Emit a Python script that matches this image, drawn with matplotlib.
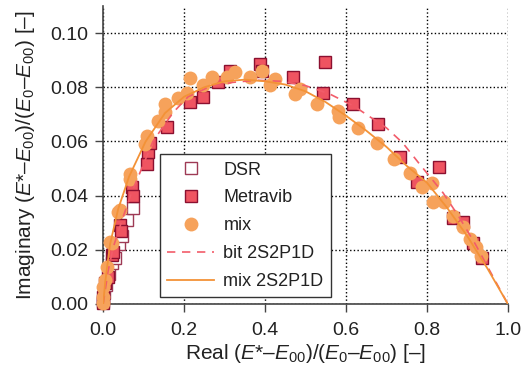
import matplotlib
matplotlib.use('Agg')
import matplotlib.pyplot as plt

plt.rcParams['font.family'] = ['Liberation Sans', 'DejaVu Sans']
plt.rcParams['mathtext.fontset'] = 'custom'
plt.rcParams['mathtext.rm'] = 'Liberation Sans'
plt.rcParams['mathtext.it'] = 'Liberation Sans:italic'
plt.rcParams['mathtext.bf'] = 'Liberation Sans:bold'

# DSR (hollow squares)
dsr_re = [0.0, 0.003, 0.008, 0.015, 0.022, 0.030, 0.040, 0.047, 0.060, 0.074]
dsr_im = [0.001, 0.004, 0.007, 0.011, 0.015, 0.017, 0.022, 0.025, 0.031, 0.0355]

# Metravib (filled squares)
met_re = [0.0, 0.0, 0.005, 0.012, 0.022, 0.025, 0.042, 0.045, 0.072, 0.074,
          0.109, 0.111, 0.116, 0.158, 0.215, 0.247, 0.284, 0.314, 0.388, 0.393,
          0.469, 0.543, 0.548, 0.617, 0.679, 0.733, 0.775, 0.830, 0.864, 0.889,
          0.914, 0.936]
met_im = [0.0003, 0.0026, 0.0078, 0.010, 0.018, 0.0193, 0.0293, 0.027, 0.043, 0.040,
          0.0515, 0.056, 0.0596, 0.0652, 0.0744, 0.0763, 0.0818, 0.086, 0.0885, 0.086,
          0.0837, 0.0777, 0.0893, 0.0737, 0.0663, 0.0544, 0.0452, 0.0507, 0.0318, 0.0304,
          0.0226, 0.017]

# mix (circles)
mix_re = [0.0, 0.0, 0.0, 0.005, 0.010, 0.017, 0.022, 0.037, 0.042, 0.067,
          0.067, 0.104, 0.109, 0.136, 0.153, 0.153, 0.185, 0.207, 0.215, 0.247,
          0.270, 0.306, 0.326, 0.363, 0.393, 0.412, 0.425, 0.474, 0.486, 0.528,
          0.580, 0.583, 0.630, 0.677, 0.719, 0.758, 0.788, 0.812, 0.815, 0.842,
          0.864, 0.889, 0.906, 0.921, 0.933]
mix_im = [0.0004, 0.0026, 0.0063, 0.0089, 0.0137, 0.023, 0.0226, 0.034, 0.0348, 0.046,
          0.0478, 0.0589, 0.0619, 0.0674, 0.0707, 0.0737, 0.076, 0.078, 0.0833, 0.081,
          0.0837, 0.0837, 0.0855, 0.0837, 0.086, 0.081, 0.083, 0.0774, 0.0793, 0.0737,
          0.0711, 0.0689, 0.065, 0.0593, 0.0537, 0.0485, 0.0433, 0.0448, 0.0378, 0.0378,
          0.0326, 0.0285, 0.024, 0.0211, 0.0178]

# bit 2S2P1D model (dashed)
bit_re = [0.0, 0.012, 0.025, 0.049, 0.07, 0.091, 0.123, 0.173, 0.21, 0.26, 0.32, 0.38,
          0.44, 0.50, 0.56, 0.62, 0.66, 0.70, 0.74, 0.78, 0.84, 0.88, 0.92, 0.96, 1.0]
bit_im = [0.0, 0.012, 0.021, 0.032, 0.041, 0.0485, 0.060, 0.0707, 0.0765, 0.0800, 0.0818, 0.0826,
          0.0822, 0.0806, 0.0775, 0.0730, 0.069, 0.065, 0.0595, 0.052, 0.041, 0.032, 0.022, 0.011, 0.0]

# mix 2S2P1D model (solid)
mfit_re = [0.0, 0.005, 0.017, 0.037, 0.064, 0.105, 0.153, 0.20, 0.25, 0.30, 0.35, 0.40,
           0.45, 0.50, 0.55, 0.60, 0.65, 0.70, 0.75, 0.80, 0.85, 0.90, 0.95, 1.0]
mfit_im = [0.0, 0.008, 0.022, 0.035, 0.047, 0.060, 0.0705, 0.0765, 0.080, 0.0822, 0.0828, 0.0822,
           0.081, 0.0785, 0.0745, 0.0695, 0.064, 0.058, 0.051, 0.0448, 0.0355, 0.025, 0.013, 0.0]

fig = plt.figure(figsize=(5.29, 3.73), dpi=100)
ax = fig.add_axes([0.195, 0.185, 0.765, 0.799])

ax.plot(dsr_re, dsr_im, 's', ms=8.7, mfc='white', mec='#9E3A55', mew=1.0,
        label='DSR', clip_on=False, zorder=3)
ax.plot(met_re, met_im, 's', ms=8.7, mfc='#EF5461', mec='#8B1030', mew=1.0,
        label='Metravib', clip_on=False, zorder=3)
ax.plot(mix_re, mix_im, 'o', ms=10, mfc='#F6A25B', mec='#F6A25B', mew=0,
        label='mix', clip_on=False, zorder=3)
ax.plot(bit_re, bit_im, '--', color='#F25C6A', lw=1.2, dashes=(5, 4),
        label='bit 2S2P1D', zorder=4)
ax.plot(mfit_re, mfit_im, '-', color='#F39237', lw=1.3,
        label='mix 2S2P1D', zorder=4)

ax.set_xlim(0, 1.0)
ax.set_ylim(0, 0.11)
ax.set_xticks([0.0, 0.2, 0.4, 0.6, 0.8, 1.0])
ax.set_yticks([0.0, 0.02, 0.04, 0.06, 0.08, 0.10])
ax.set_xticklabels(['0.0', '0.2', '0.4', '0.6', '0.8', '1.0'])
ax.set_yticklabels(['0.00', '0.02', '0.04', '0.06', '0.08', '0.10'])
ax.grid(True, color='black', linestyle=':', linewidth=1.0)
ax.set_axisbelow(True)

for s in ['top', 'right']:
    ax.spines[s].set_visible(False)
for s in ['left', 'bottom']:
    ax.spines[s].set_color('#444444')
    ax.spines[s].set_linewidth(1.2)
ax.tick_params(direction='out', length=6, width=1.0, color='#444444',
               labelsize=14, labelcolor='#222222')
ax.tick_params(axis='x', pad=7)
ax.tick_params(axis='y', pad=5)

ax.set_xlabel('Real ($E$*–$E_{00}$)/($E_0$–$E_{00}$) [–]', fontsize=15,
              color='#222222', labelpad=2)
ax.set_ylabel('Imaginary ($E$*–$E_{00}$)/($E_0$–$E_{00}$) [–]', fontsize=15,
              color='#222222', labelpad=9)

leg = ax.legend(loc='lower left', bbox_to_anchor=(0.141, 0.023), borderaxespad=0,
                fontsize=13, fancybox=False, framealpha=1, edgecolor='#333333',
                handlelength=2.6, handletextpad=0.5, labelspacing=0.6)
leg.get_frame().set_linewidth(1.0)
for t in leg.get_texts():
    t.set_color('#222222')

fig.savefig('out.png', dpi=100)
